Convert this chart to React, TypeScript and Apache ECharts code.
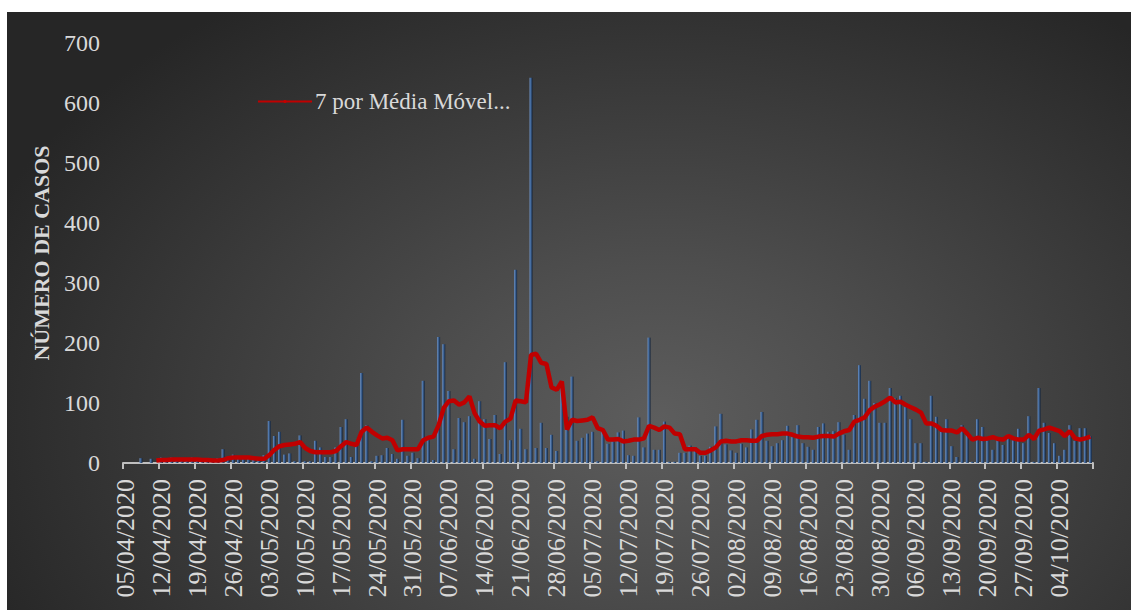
import React, { useEffect, useRef } from "react";
import * as echarts from "echarts";

// Daily categories: 05/04/2020 .. 10/10/2020 (189 days)
const startDate = { day: 5, month: 4, year: 2020 };
const dayCount = 189;
const categories: string[] = (() => {
  const out: string[] = [];
  const d = new Date(Date.UTC(startDate.year, startDate.month - 1, startDate.day));
  for (let i = 0; i < dayCount; i++) {
    const dd = String(d.getUTCDate()).padStart(2, "0");
    const mm = String(d.getUTCMonth() + 1).padStart(2, "0");
    out.push(`${dd}/${mm}/${d.getUTCFullYear()}`);
    d.setUTCDate(d.getUTCDate() + 1);
  }
  return out;
})();

// Daily cases
const dailyCases: number[] = [
  0, 0, 0, 8, 0, 7, 0, 9, 3, 9, 3, 4, 4, 9, 4, 3, 2, 3, 8, 23,
  5, 14, 8, 6, 8, 6, 5, 13, 70, 45, 52, 14, 16, 3, 46, 3, 3, 37, 26, 10,
  10, 26, 60, 73, 10, 29, 150, 63, 3, 12, 13, 25, 15, 7, 72, 12, 17, 8, 137, 38,
  5, 210, 198, 120, 23, 75, 68, 78, 7, 103, 73, 40, 80, 15, 168, 38, 322, 57, 23, 642,
  25, 67, 25, 47, 20, 130, 77, 144, 37, 42, 49, 52, 3, 57, 32, 36, 51, 54, 13, 12,
  76, 26, 209, 22, 22, 69, 2, 2, 17, 17, 29, 26, 12, 12, 27, 61, 82, 31, 21, 17,
  32, 26, 56, 72, 85, 37, 28, 33, 38, 62, 43, 63, 33, 27, 22, 60, 66, 52, 53, 68,
  47, 22, 80, 163, 107, 137, 100, 67, 67, 125, 108, 112, 93, 73, 33, 33, 2, 112, 77, 52,
  73, 28, 10, 63, 47, 2, 73, 60, 38, 22, 38, 30, 47, 38, 57, 33, 78, 2, 125, 67,
  50, 33, 12, 22, 63, 37, 58, 58, 45,
];

// 7-day moving average (starts on the 7th day)
const movingAverage: (number | null)[] = [
  null, null, null, null, null, null, 4, 5, 5, 6, 6, 6, 6, 6, 6, 5, 5, 4, 4, 5,
  8, 9, 9, 9, 9, 8, 7, 7, 13, 22, 28, 30, 31, 32, 35, 25, 20, 18, 18, 18,
  18, 20, 28, 35, 32, 30, 52, 59, 52, 46, 41, 42, 38, 21, 23, 23, 23, 23, 38, 42,
  44, 63, 92, 103, 104, 97, 101, 111, 83, 69, 62, 63, 63, 58, 69, 74, 104, 103, 101, 180,
  182, 167, 165, 126, 122, 136, 56, 72, 70, 71, 72, 76, 58, 55, 39, 39, 40, 36, 37, 39,
  39, 41, 62, 59, 55, 61, 59, 49, 48, 23, 23, 23, 17, 17, 21, 26, 36, 37, 36, 36,
  38, 38, 37, 37, 45, 47, 48, 48, 49, 49, 47, 44, 43, 43, 42, 44, 45, 45, 44, 49,
  53, 55, 69, 72, 76, 88, 94, 98, 103, 109, 101, 102, 97, 93, 89, 84, 66, 66, 62, 55,
  54, 54, 51, 58, 49, 39, 42, 40, 41, 43, 40, 39, 45, 41, 39, 39, 47, 40, 54, 56,
  59, 56, 53, 45, 53, 41, 39, 41, 44,
];

const seriesNames = { bars: "Casos", line: "7 por Média Móvel..." };
const yTitle = "NÚMERO DE CASOS";

export default function App() {
  const ref = useRef<HTMLDivElement>(null);
  useEffect(() => {
    if (!ref.current) return;
    const chart = echarts.init(ref.current, undefined, { renderer: "svg" });
    const font = "'Liberation Serif', 'Times New Roman', serif";
    chart.setOption({
      animation: false,
      backgroundColor: "transparent",
      grid: { left: 116, right: 38, top: 31, bottom: 147, containLabel: false },
      legend: {
        data: [seriesNames.line],
        left: 245,
        top: 73,
        itemWidth: 54,
        itemHeight: 4,
        itemGap: 2,
        textStyle: { color: "#d9d9d9", fontSize: 23, fontFamily: font, padding: [0, 0, 0, -2] },
      },
      graphic: [
        {
          type: "text",
          x: 34,
          y: 241,
          rotation: Math.PI / 2,
          style: {
            text: yTitle,
            fill: "#d9d9d9",
            font: `bold 22px ${font}`,
            textAlign: "center",
            textVerticalAlign: "middle",
          },
        },
      ],
      xAxis: {
        type: "category",
        data: categories,
        boundaryGap: true,
        axisLine: { show: true, lineStyle: { color: "#bfbfbf", width: 2 } },
        axisTick: { show: true, interval: 6, length: 6, lineStyle: { color: "#bfbfbf", width: 2 } },
        axisLabel: {
          interval: 6,
          rotate: 90,
          margin: 16,
          color: "#d9d9d9",
          fontSize: 26,
          fontFamily: font,
        },
        splitLine: { show: false },
      },
      yAxis: {
        type: "value",
        min: 0,
        max: 700,
        interval: 100,
        axisLine: { show: false },
        axisTick: { show: false },
        splitLine: { show: false },
        axisLabel: { margin: 23, color: "#d9d9d9", fontSize: 24, fontFamily: font },
      },
      series: [
        {
          name: seriesNames.bars,
          type: "bar",
          data: dailyCases,
          barWidth: 3,
          itemStyle: {
            color: new echarts.graphic.LinearGradient(0, 0, 1, 0, [
              { offset: 0, color: "#6f93c6" },
              { offset: 0.4, color: "#3f6699" },
              { offset: 1, color: "#15243a" },
            ]),
          },
        },
        {
          name: seriesNames.line,
          type: "line",
          data: movingAverage,
          symbol: "none",
          connectNulls: false,
          lineStyle: { color: "#c00000", width: 4.5 },
          itemStyle: { color: "#c00000" },
        },
      ],
    });
    return () => chart.dispose();
  }, []);
  return (
    <div
      ref={ref}
      style={{
        position: "absolute",
        left: 7,
        top: 12,
        width: 1124,
        height: 598,
        background:
          "radial-gradient(ellipse 65% 85% at 58% 68%, #5d5d5d 0%, #4e4e4e 30%, #373737 70%, #262626 100%)",
      }}
    />
  );
}
